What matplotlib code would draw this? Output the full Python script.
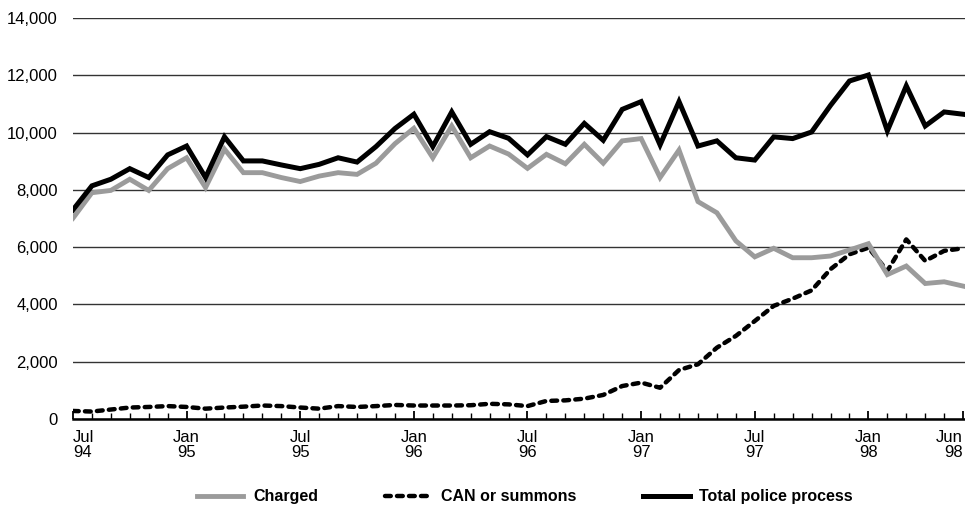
import numpy as np
import matplotlib
matplotlib.use("Agg")
from matplotlib import pyplot as plt
from matplotlib.ticker import FuncFormatter, MultipleLocator

# monthly counts, Jul 1994 - Jun 1998
charged = [7010, 7900, 7980, 8370, 7980, 8740, 9120, 8080, 9420, 8600, 8600, 8430,
           8290, 8480, 8600, 8540, 8930, 9610, 10150, 9120, 10230, 9120, 9530, 9250,
           8750, 9240, 8910, 9590, 8930, 9710, 9790, 8430, 9390, 7590, 7200, 6220,
           5660, 5960, 5630, 5630, 5690, 5900, 6120, 5040, 5340, 4730, 4790, 4640]
can_summons = [280, 260, 330, 400, 420, 450, 420, 360, 400, 430, 470, 450,
               400, 360, 450, 420, 450, 490, 470, 470, 470, 480, 530, 510,
               450, 630, 650, 710, 840, 1150, 1270, 1090, 1710, 1910, 2490, 2900,
               3420, 3950, 4200, 4490, 5230, 5750, 5980, 5170, 6270, 5520, 5870, 5960]
total = [7300, 8140, 8370, 8740, 8430, 9220, 9530, 8430, 9850, 9010, 9010, 8870,
         8740, 8890, 9120, 8970, 9510, 10140, 10640, 9510, 10720, 9590, 10030, 9800,
         9220, 9860, 9590, 10320, 9730, 10810, 11080, 9570, 11080, 9530, 9710, 9120,
         9040, 9850, 9790, 10020, 10950, 11800, 12010, 10060, 11630, 10230, 10720, 10640]

tick_pos = [0, 6, 12, 18, 24, 30, 36, 42, 47]
tick_labels = ["Jul\n94", "Jan\n95", "Jul\n95", "Jan\n96", "Jul\n96",
               "Jan\n97", "Jul\n97", "Jan\n98", "Jun\n98"]

plt.rcParams["font.family"] = ["Liberation Sans", "DejaVu Sans"]
plt.rcParams["font.size"] = 12

fig = plt.figure(figsize=(9.65, 5.07), dpi=100)
ax = fig.add_axes([0.0756, 0.1736, 0.9244, 0.7909])

x = np.arange(len(total))
ax.plot(x, can_summons, color="black", lw=3.2, linestyle=(0, (1.3, 1.4)),
        dash_capstyle="round", zorder=3, label="CAN or summons")
ax.plot(x, charged, color="#9b9b9b", lw=3.5, solid_joinstyle="miter", zorder=4, label="Charged")
ax.plot(x, total, color="black", lw=3.6, solid_joinstyle="miter", zorder=5, label="Total police process")

ax.set_xlim(0, 47.1)
ax.set_ylim(0, 14000)
ax.yaxis.set_major_locator(MultipleLocator(2000))
ax.yaxis.set_major_formatter(FuncFormatter(lambda v, p: f"{v:,.0f}"))
ax.grid(axis="y", color="#333333", lw=1.0)
ax.set_axisbelow(True)

for s in ["top", "right", "left"]:
    ax.spines[s].set_visible(False)
ax.spines["bottom"].set_linewidth(1.8)
ax.spines["bottom"].set_zorder(6)

ax.tick_params(axis="y", length=0, pad=11, labelsize=12, colors="black")
ax.set_xticks(tick_pos)
ax.set_xticklabels(tick_labels, linespacing=1.0)
ax.set_xticks(x, minor=True)
ax.tick_params(axis="x", which="major", direction="in", length=6, width=1.3, pad=8, labelsize=12)
ax.tick_params(axis="x", which="minor", direction="in", length=4, width=1.0)
lbls = ax.get_xticklabels()
lbls[0].set_ha("left")
lbls[-1].set_ha("right")

h, l = ax.get_legend_handles_labels()
order = [1, 0, 2]
fig.legend([h[i] for i in order], [l[i] for i in order], loc="center",
           bbox_to_anchor=(0.544, 0.02), ncol=3, frameon=False, borderpad=0,
           handlelength=2.9, handletextpad=0.6, columnspacing=4.2,
           prop={"weight": "bold", "size": 11.5})

fig.savefig("out.png", dpi=100)
